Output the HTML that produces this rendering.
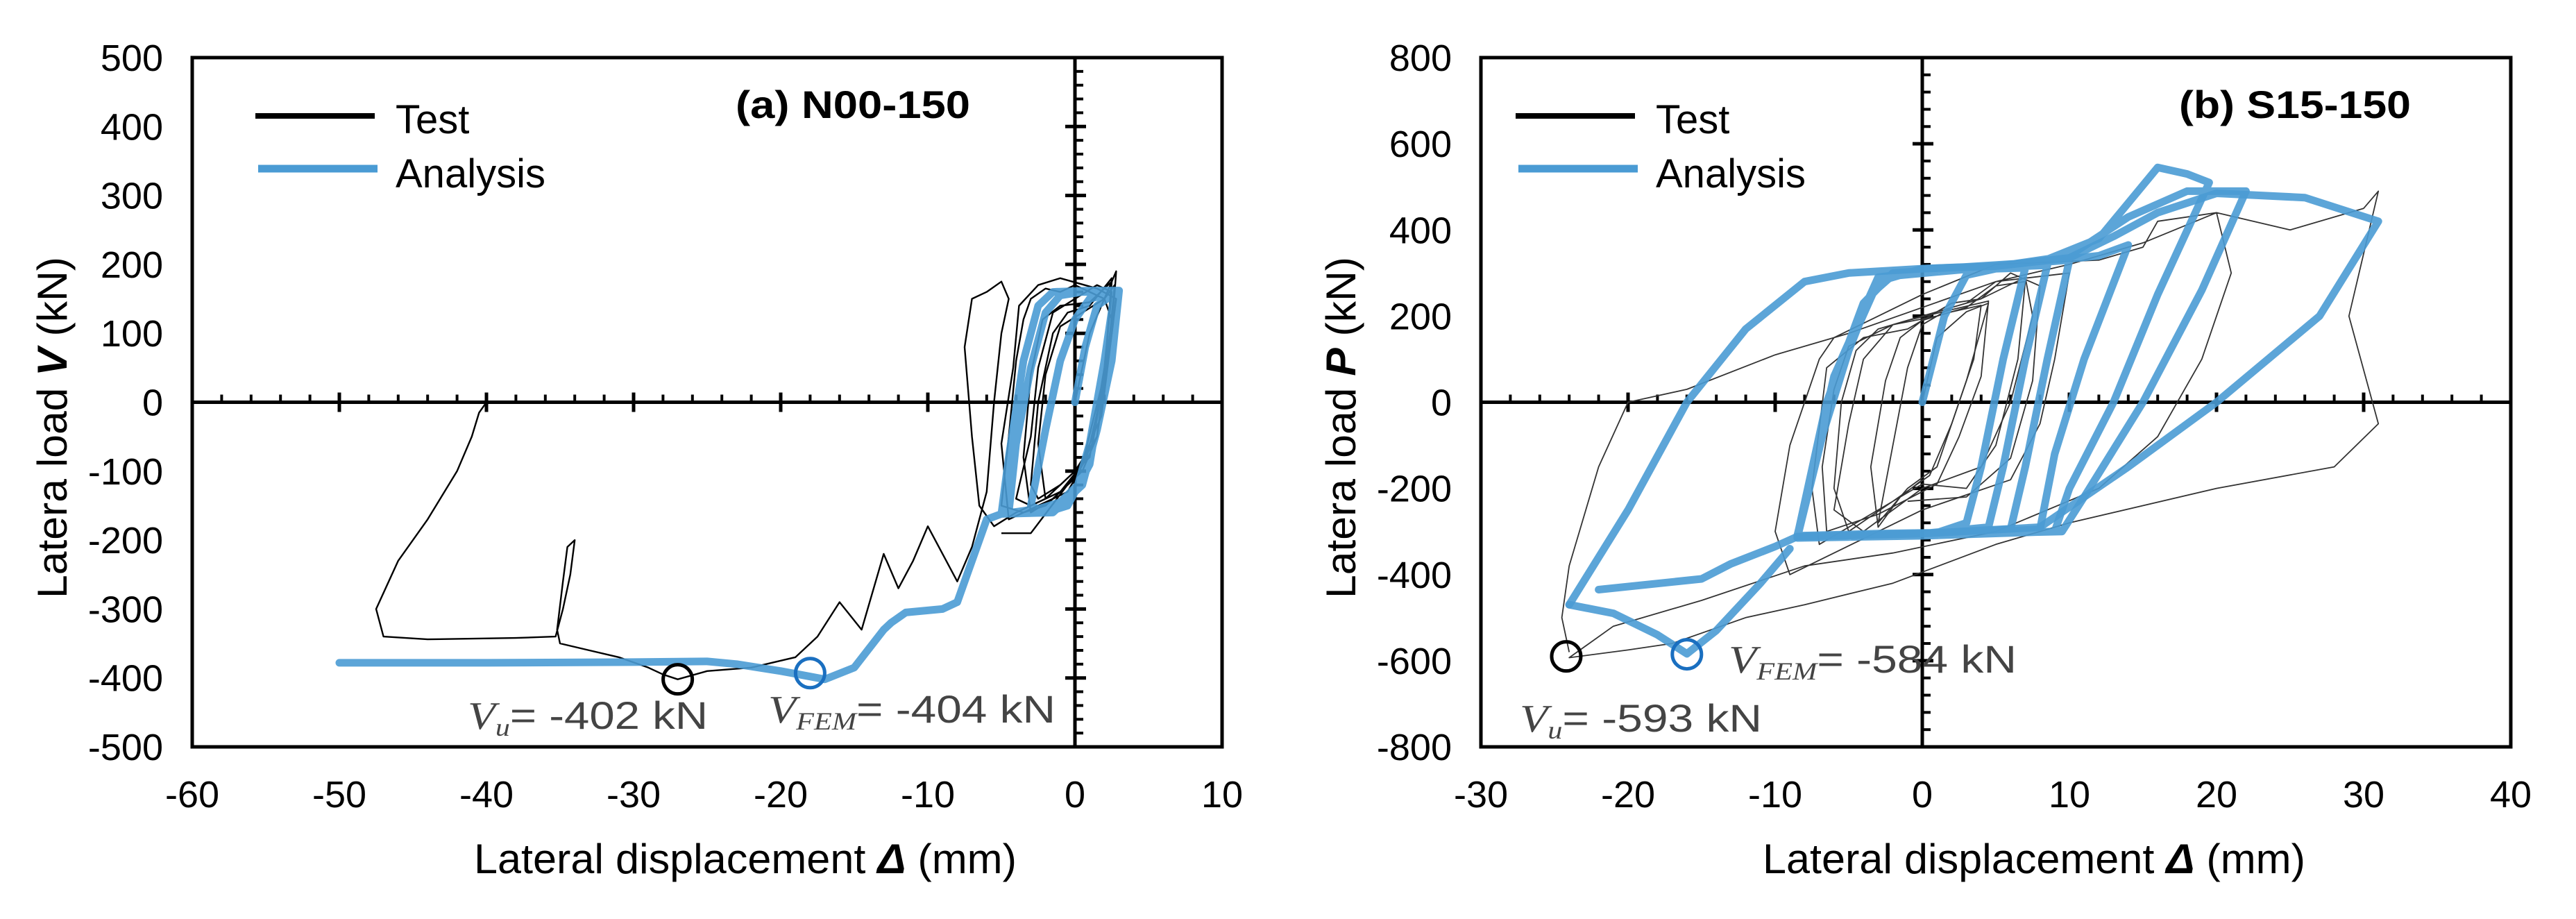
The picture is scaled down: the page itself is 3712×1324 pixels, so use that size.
<!DOCTYPE html>
<html><head><meta charset="utf-8"><style>
html,body{margin:0;padding:0;background:#fff;}
svg{display:block;font-family:"Liberation Sans",sans-serif;}
</style></head><body>
<svg id="fig" width="3712" height="1324" viewBox="0 0 3712 1324" xmlns="http://www.w3.org/2000/svg">
<rect width="3712" height="1324" fill="#fff"/>
<g id="pa"></g>
<g id="pb"></g>
</svg>
<script>
// ---------- Panel (a) data ----------
const xTicksA = [-60,-50,-40,-30,-20,-10,0,10];
const yTicksA = [500,400,300,200,100,0,-100,-200,-300,-400,-500];
const analysisA = [[0,0],[0.7,80],[1.5,140],[2.5,155],[2.7,160],[2,60],[1,-60],[0.2,-120],[-1,-145],[-2.5,-155],[-3,-150],[-2,-40],[-1,60],[0,120],[1,150],[2.8,160],[2.5,80],[1.5,-20],[0.5,-110],[-0.5,-150],[-2,-160],[-4.5,-160],[-4,-60],[-3,50],[-2,130],[-1,155],[0.5,160],[2.8,160],[2,40],[1,-90],[0,-130],[-1.5,-160],[-5,-162],[-4.5,-80],[-3.5,60],[-2.5,140],[-1.5,160],[1,162],[3,162],[2.5,60],[1.5,-40],[0.5,-120],[-1,-150],[-5,-162],[-6,-170],[-7,-230],[-8,-290],[-9,-300],[-11.5,-305],[-12.5,-320],[-13,-330],[-15,-385],[-17,-402],[-18,-398],[-20,-390],[-23,-380],[-25,-376],[-30,-377],[-40,-378],[-50,-378]];
const testA = [[0,0],[1,100],[2,150],[2.8,190],[2.5,100],[1.5,-50],[0.5,-100],[-1,-130],[-3,-150],[-4,-140],[-3,-50],[-2.5,50],[-1.5,130],[0,150],[1.5,170],[2.5,160],[2,50],[1,-80],[-1,-120],[-2.5,-140],[-3,-120],[-2.5,0],[-1.5,100],[-0.5,130],[1,140],[2.5,180],[2,40],[0.5,-90],[-1,-130],[-2,-150],[-3.5,-160],[-5,-150],[-4.5,-50],[-4,60],[-3.5,120],[-3,150],[-2,165],[-1,160],[0,170],[2,150],[2.5,120],[1.5,-50],[0,-100],[-2,-140],[-4,-160],[-5.5,-180],[-6.5,-150],[-7,-50],[-7.5,80],[-7,150],[-6,160],[-5,175],[-4.5,150],[-5,100],[-5.5,0],[-6,-130],[-7,-210],[-8,-260],[-10,-180],[-11,-230],[-12,-270],[-13,-220],[-14.5,-330],[-16,-290],[-17.5,-340],[-19,-370],[-22,-385],[-25,-390],[-27,-402],[-28,-395],[-29,-385],[-31,-370],[-33,-360],[-35,-350],[-35.2,-330],[-34.8,-260],[-34.5,-210],[-34,-200],[-34.3,-250],[-34.8,-300],[-35.3,-340],[-38,-342],[-44,-344],[-47,-340],[-47.5,-300],[-46,-230],[-44,-170],[-42,-100],[-41,-50],[-40.5,-15],[-40,0]];
const testA2 = [[-2,-140],[-2.5,-60],[-2,40],[-1,110],[0.5,130],[2,150],[2.7,170],[2.2,60],[1.2,-60],[0,-110],[-1.5,-140],[-3,-160],[-3.5,-80],[-3,40],[-2.2,120],[-1,140],[1,145],[2.5,175],[2,30],[0.8,-80],[-0.5,-130],[-2.5,-150],[-4.5,-170],[-5,-60],[-4.2,50],[-3.8,140],[-2.5,170],[-1,180],[1.5,165],[2.8,150],[1.8,-20],[0.2,-100],[-3,-190],[-5,-190]];
const markTestA = [-27,-402];
const markFemA = [-18,-393];
// ---------- Panel (b) data ----------
const xTicksB = [-30,-20,-10,0,10,20,30,40];
const yTicksB = [800,600,400,200,0,-200,-400,-600,-800];
const analysisB1 = [[0,0],[1.5,200],[3,295],[5,310],[7,312],[5.5,100],[4,-150],[3,-280],[1,-303],[-3,-305],[-8.5,-310],[-7,-100],[-5,120],[-3.5,250],[-2,295],[0,305],[4,312],[8.5,318],[7,100],[5.5,-150],[4.5,-290],[0,-305],[-8.5,-312],[-6.5,0],[-4,230],[-2,300],[3,312],[10,330],[8.5,100],[7,-150],[6,-295],[0,-307],[-8.5,-312],[-6,50],[-3,280],[0,310],[6,318],[12,340],[14,365],[11,100],[9,-120],[8,-295],[0,-308],[-8.5,-312],[-6,60],[-3,290],[2,312],[8,325],[12,380],[16,545],[18,530],[19.5,510],[16,250],[13,0],[10,-200],[9,-300],[0,-310],[-8.5,-315],[-5.5,100],[-3,290],[5,315],[10,340],[14,430],[18,490],[22,490],[19,260],[15,0],[11,-220],[9.5,-300],[-8.5,-315]];
const analysisB2 = [[-24,-470],[-20,-250],[-16,0],[-12,170],[-8,280],[-5,300],[0,310],[5,316],[10,335],[13,385],[16,440],[20,485],[26,475],[31,420],[27,200],[20,0],[14,-150],[8,-290],[0,-305],[-8.5,-312],[-10,-335],[-13,-375],[-15,-410],[-22,-435]];
const analysisB3 = [[-24,-470],[-21,-490],[-18,-540],[-16,-584],[-14,-530],[-11,-420],[-9,-340]];
const testB = [[0,0],[1,150],[3,210],[4.5,230],[3,50],[1,-150],[-1,-200],[-3,-280],[-2,-100],[-1,80],[0,180],[2,220],[4,240],[7,290],[7.5,200],[6,0],[4,-150],[0,-200],[-4,-300],[-6,-250],[-5,-50],[-4,100],[-2,180],[0,200],[3,230],[5,280],[10,300],[9,100],[8,-50],[6,-180],[0,-250],[-6,-350],[-9,-400],[-10,-300],[-9,-100],[-7,100],[-6,150],[-3,200],[0,250],[5,320],[12,330],[15,360],[16,420],[20,440],[21,300],[19,100],[16,-80],[12,-200],[5,-300],[-2,-350],[-8,-380],[-15,-460],[-21,-520],[-24,-593],[-20,-575],[-17,-560],[-12,-500],[-8,-470],[-2,-420],[5,-330],[10,-280],[20,-200],[28,-150],[31,-50],[29,200],[31,490],[30,450],[25,400],[20,440],[15,370],[10,320],[5,280],[-5,160],[-10,110],[-16,30],[-20,0],[-22,-150],[-24,-380],[-24.5,-500],[-24,-580]];
const testB2 = [[0,-180],[-1.5,-220],[-3,-290],[-3.5,-150],[-2.5,50],[-1.5,150],[0,190],[2,210],[4,225],[3.5,100],[2,-50],[0.5,-170],[-2,-230],[-5,-300],[-6,-200],[-5.5,0],[-4.5,120],[-3,170],[-1,190],[2,215],[4.5,235],[4,60],[2.5,-80],[1,-190],[-3,-260],[-6.5,-300],[-6.8,-150],[-6,30],[-5,130],[-2,180],[1,200],[3,220],[5,270],[7,280],[6.5,100],[5,-100],[3,-200],[0,-190],[-4,-270],[-7,-330],[-7.5,-200],[-6.5,80],[-4,150],[-1,170],[2,230],[4,240],[6,300],[8,270],[7.5,50],[6,-130],[3,-220],[-1,-230]];
const markTestB = [-24.2,-590];
const markFemB = [-16,-585];

const NS = "http://www.w3.org/2000/svg";
function mk(parent, tag, attrs, text){
  const e = document.createElementNS(NS, tag);
  for (const k in attrs) e.setAttribute(k, attrs[k]);
  if (text !== undefined) e.textContent = text;
  parent.appendChild(e);
  return e;
}

function panel(g, o){
  const L=o.left, R=o.left+1484, T=83, B=1076;
  const sx = v => L + (v - o.xmin)/(o.xmax - o.xmin)*(R-L);
  const sy = v => B - (v - o.ymin)/(o.ymax - o.ymin)*(B-T);
  const x0 = sx(0), y0 = sy(0);
  const fr = mk(g,'rect',{x:L,y:T,width:R-L,height:B-T,fill:'none',stroke:'#000','stroke-width':5});
  
  
  const xa = mk(g,'line',{x1:L,x2:R,y1:y0,y2:y0,stroke:'#000','stroke-width':5});
  
  
  const ya = mk(g,'line',{x1:x0,x2:x0,y1:T,y2:B,stroke:'#000','stroke-width':5});
  
  
  for (let v=o.xmin; v<=o.xmax+1e-9; v+=2){
    const x=sx(v); const major = Math.abs(v%10)<1e-9;
    if (Math.abs(v)<1e-9) continue;
    const t = mk(g,'line',{x1:x,x2:x,y1:y0-(major?14:11),y2:y0+(major?14:0),stroke:'#000','stroke-width':major?5:4});
    
    
  }
  for (let v=o.ymin; v<=o.ymax+1e-9; v+=o.yminor){
    const y=sy(v); const major = Math.abs(v%o.ymajor)<1e-9;
    if (Math.abs(v)<1e-9) continue;
    const t = mk(g,'line',{x1:x0-(major?14:0),x2:x0+(major?16:12),y1:y,y2:y,stroke:'#000','stroke-width':major?5:4});
    
    
  }
  o.xt.forEach(v=>{
    const t = mk(g,'text',{x:sx(v),y:1163,'font-size':54,'text-anchor':'middle',fill:'#000'}, String(v));
    
    
  });
  o.yt.forEach(v=>{
    const t = mk(g,'text',{x:L-42,y:sy(v)+19,'font-size':54,'text-anchor':'end',fill:'#000'}, String(v));
    
    
  });
  const path = pts => pts.map((p,i)=>(i?'L':'M')+sx(p[0]).toFixed(1)+' '+sy(p[1]).toFixed(1)).join(' ');
  o.test.forEach(s=>{
    const p = mk(g,'path',{d:path(s),fill:'none',stroke:o.testColor,'stroke-width':o.testW,'stroke-linejoin':'round'});
    
    
  });
  o.ana.forEach(s=>{
    const p = mk(g,'path',{d:path(s),fill:'none',stroke:'#4a9bd4','stroke-width':11,'stroke-linejoin':'round','stroke-linecap':'round','stroke-opacity':0.9});
    
    
  });
  const c1 = mk(g,'ellipse',{cx:sx(o.mt[0]),cy:sy(o.mt[1]),rx:21,ry:21,fill:'none',stroke:'#000','stroke-width':5});
  
  
  const c2 = mk(g,'ellipse',{cx:sx(o.mf[0]),cy:sy(o.mf[1]),rx:21,ry:21,fill:'none',stroke:'#1a6fc0','stroke-width':5});
  
  
  o.notes.forEach(n=>{
    const t = mk(g,'text',{x:n.x,y:n.y,'font-size':56,fill:'#444','textLength':n.w,'lengthAdjust':'spacingAndGlyphs'});
    
    
    mk(t,'tspan',{'font-family':'Liberation Serif, serif','font-style':'italic'},'V');
    mk(t,'tspan',{'font-family':'Liberation Serif, serif','font-style':'italic','font-size':36,dy:10},n.sub);
    mk(t,'tspan',{dy:-10},n.rest);
  });
  const l1 = mk(g,'line',{x1:o.legX,x2:o.legX+172,y1:167,y2:167,stroke:'#000','stroke-width':8});
  
  
  const l2 = mk(g,'line',{x1:o.legX+4,x2:o.legX+176,y1:243,y2:243,stroke:'#4a9bd4','stroke-width':11});
  
  
  const lt1 = mk(g,'text',{x:o.legX+202,y:192,'font-size':58,fill:'#000'},'Test');
  
  
  const lt2 = mk(g,'text',{x:o.legX+202,y:270,'font-size':58,fill:'#000'},'Analysis');
  
  
  const pt = mk(g,'text',{x:o.titleX,y:170,'font-size':56,'font-weight':'bold',fill:'#000',textLength:o.titleW,lengthAdjust:'spacingAndGlyphs'},o.title);
  
  
  const xt = mk(g,'text',{x:o.left+406,y:1258,'font-size':60,fill:'#000',textLength:782,lengthAdjust:'spacingAndGlyphs'});
  
  
  mk(xt,'tspan',{},'Lateral displacement ');
  mk(xt,'tspan',{'font-weight':'bold','font-style':'italic'},'Δ');
  mk(xt,'tspan',{},' (mm)');
  const yt = mk(g,'text',{x:0,y:0,'font-size':60,fill:'#000','text-anchor':'middle',transform:'translate('+(o.left-181)+',616) rotate(-90)',textLength:492,lengthAdjust:'spacingAndGlyphs'});
  
  
  mk(yt,'tspan',{},'Latera load  ');
  mk(yt,'tspan',{'font-weight':'bold','font-style':'italic'},o.ysym);
  mk(yt,'tspan',{},' (kN)');
}

panel(document.getElementById('pa'),{
  left:277,xmin:-60,xmax:10,ymin:-500,ymax:500,yminor:20,ymajor:100,xt:xTicksA,yt:yTicksA,
  test:[testA,testA2],ana:[analysisA],testColor:'#000',testW:2.4,mt:markTestA,mf:markFemA,
  notes:[{x:674,y:1050,w:346,sub:'u',rest:'= -402 kN',name:'vu-annotation'},
         {x:1107,y:1041,w:414,sub:'FEM',rest:'= -404 kN',name:'vfem-annotation'}],
  legX:368,title:'(a) N00-150',titleX:1060,titleW:338,ysym:'V'
});
panel(document.getElementById('pb'),{
  left:2134,xmin:-30,xmax:40,ymin:-800,ymax:800,yminor:40,ymajor:200,xt:xTicksB,yt:yTicksB,
  test:[testB,testB2],ana:[analysisB1,analysisB2,analysisB3],testColor:'#333',testW:1.8,mt:markTestB,mf:markFemB,
  notes:[{x:2491,y:969,w:415,sub:'FEM',rest:'= -584 kN',name:'vfem-annotation'},
         {x:2190,y:1054,w:349,sub:'u',rest:'= -593 kN',name:'vu-annotation'}],
  legX:2184,title:'(b) S15-150',titleX:3140,titleW:334,ysym:'P'
});
</script>
</body></html>
